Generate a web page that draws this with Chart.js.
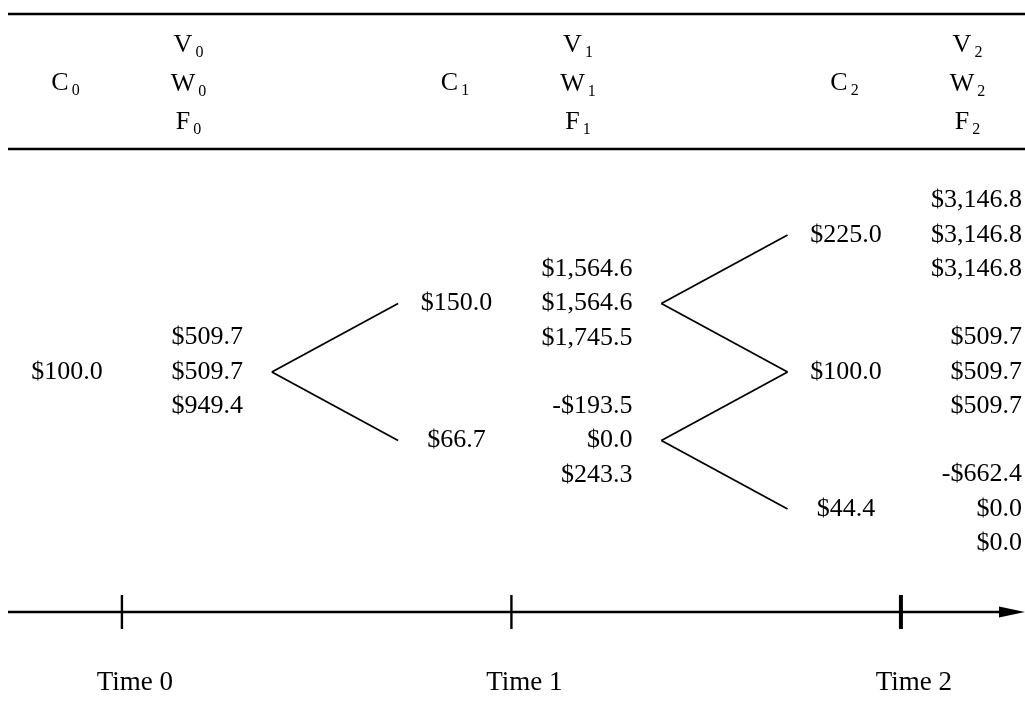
<!DOCTYPE html>
<html lang="en">
<head>
    <meta charset="UTF-8">
    <title>Binomial Tree</title>
    <script src="https://cdn.jsdelivr.net/npm/chart.js"></script>
    <style>
        html, body { margin: 0; padding: 0; background: #fff; }
        #wrap { width: 1025px; height: 705px; }
    </style>
</head>
<body>
    <div id="wrap"><canvas id="treeChart" width="1025" height="705"></canvas></div>

    <script>
        // tree data
        const times = [0, 1, 2];
        const timeLabels = ['Time 0', 'Time 1', 'Time 2'];
        const nodeLevels = [[0], [1, -1], [2, 0, -2]];          // ups minus downs
        const priceC = [[100.0], [150.0, 66.7], [225.0, 100.0, 44.4]];
        const valueV = [[509.7], [1564.6, -193.5], [3146.8, 509.7, -662.4]];
        const valueW = [[509.7], [1564.6, 0.0], [3146.8, 509.7, 0.0]];
        const valueF = [[949.4], [1745.5, 243.3], [3146.8, 509.7, 0.0]];
        const headerLetters = ['V', 'W', 'F'];

        // layout (time units / page px)
        const apexOffset = 0.526;
        const endOffset = 0.150;
        const tickOffset = 0.141;
        const FONT = '"Liberation Serif", "Times New Roman", serif';

        function money(v) {
            const parts = Math.abs(v).toFixed(1).split('.');
            parts[0] = parts[0].replace(/\B(?=(\d{3})+(?!\d))/g, ',');
            return (v < 0 ? '-' : '') + '$' + parts.join('.');
        }

        // branches of the tree
        const datasets = [];
        times.slice(0, -1).forEach((t, ti) => {
            nodeLevels[ti].forEach(k => {
                [k + 1, k - 1].forEach(k2 => {
                    datasets.push({
                        data: [{ x: t + apexOffset, y: k }, { x: t + 1 - endOffset, y: k2 }],
                        showLine: true, borderColor: '#000', borderWidth: 1.8,
                        pointRadius: 0, xAxisID: 'x', yAxisID: 'y'
                    });
                });
            });
        });

        // header rules
        [14, 149].forEach(py => {
            datasets.push({
                data: [{ x: 8, y: py }, { x: 1025, y: py }],
                showLine: true, borderColor: '#000', borderWidth: 2.4,
                pointRadius: 0, xAxisID: 'xPage', yAxisID: 'yPage'
            });
        });

        // time axis line
        datasets.push({
            data: [{ x: 8, y: 612 }, { x: 1005, y: 612 }],
            showLine: true, borderColor: '#000', borderWidth: 2.4,
            pointRadius: 0, xAxisID: 'xPage', yAxisID: 'yPage'
        });

        // arrow head
        const arrow = document.createElement('canvas');
        arrow.width = 26; arrow.height = 12;
        const actx = arrow.getContext('2d');
        actx.fillStyle = '#000';
        actx.beginPath(); actx.moveTo(0, 0.5); actx.lineTo(26, 6); actx.lineTo(0, 11.5); actx.closePath(); actx.fill();
        datasets.push({
            data: [{ x: 1012, y: 612 }],
            pointStyle: arrow, pointRadius: 6, xAxisID: 'xPage', yAxisID: 'yPage'
        });

        // time ticks
        times.forEach((t, ti) => {
            datasets.push({
                data: [{ x: t + tickOffset, y: 612 }],
                pointStyle: 'line', rotation: 90, pointRadius: 17,
                borderColor: '#000', borderWidth: ti === times.length - 1 ? 4 : 2.4,
                xAxisID: 'x', yAxisID: 'yPage'
            });
        });

        function drawSub(ctx, letter, sub, x, y) {
            ctx.textBaseline = 'alphabetic';
            ctx.textAlign = 'center';
            ctx.font = '26px ' + FONT;
            ctx.fillText(letter, x, y + 8);
            const w = ctx.measureText(letter).width;
            ctx.textAlign = 'left';
            ctx.font = '16px ' + FONT;
            ctx.fillText(sub, x + w / 2 + 3, y + 13);
        }

        const textPlugin = {
            id: 'treeText',
            afterDatasetsDraw(chart) {
                const ctx = chart.ctx;
                const xs = chart.scales.x, ys = chart.scales.y, yp = chart.scales.yPage;
                ctx.save();
                ctx.fillStyle = '#000';
                times.forEach((t, ti) => {
                    const cx = xs.getPixelForValue(t);
                    drawSub(ctx, 'C', String(t), cx - 7, yp.getPixelForValue(82));
                    headerLetters.forEach((l, r) => {
                        drawSub(ctx, l, String(t), cx + 116, yp.getPixelForValue(44 + 38.5 * r));
                    });
                    nodeLevels[ti].forEach((k, i) => {
                        const y = ys.getPixelForValue(k);
                        ctx.font = '26px ' + FONT;
                        ctx.textBaseline = 'middle';
                        ctx.textAlign = 'center';
                        ctx.fillText(money(priceC[ti][i]), cx, y);
                        ctx.textAlign = 'right';
                        [valueV, valueW, valueF].forEach((arr, r) => {
                            ctx.fillText(money(arr[ti][i]), cx + 176, y + (r - 1) * 34.5);
                        });
                    });
                    ctx.font = '27px ' + FONT;
                    ctx.textAlign = 'center';
                    ctx.textBaseline = 'middle';
                    ctx.fillText(timeLabels[ti], xs.getPixelForValue(t + tickOffset) + 13, yp.getPixelForValue(683));
                });
                ctx.restore();
            }
        };

        new Chart(document.getElementById('treeChart').getContext('2d'), {
            type: 'scatter',
            data: { datasets: datasets },
            options: {
                responsive: false,
                animation: false,
                layout: { padding: 0, autoPadding: false },
                plugins: { legend: { display: false }, tooltip: { enabled: false } },
                scales: {
                    x: { type: 'linear', display: false, min: -67 / 389.5, max: (1025 - 67) / 389.5 },
                    y: { type: 'linear', display: false, min: (372 - 705) / 68.5, max: 372 / 68.5 },
                    xPage: { type: 'linear', display: false, min: 0, max: 1025 },
                    yPage: { type: 'linear', display: false, min: 0, max: 705, reverse: true }
                }
            },
            plugins: [textPlugin]
        });
    </script>
</body>
</html>
